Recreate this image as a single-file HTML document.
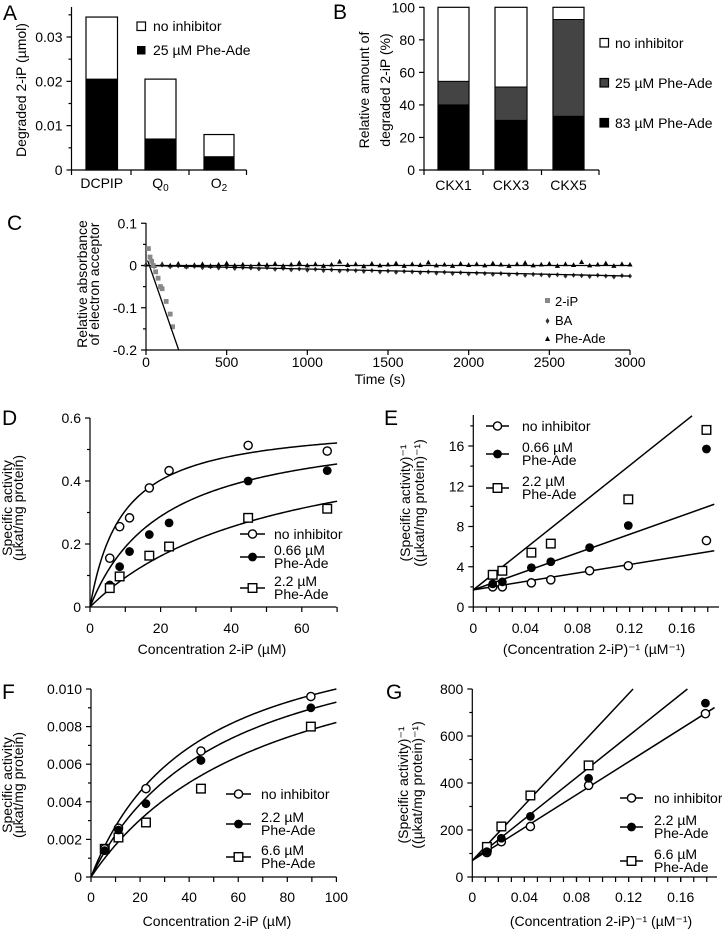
<!DOCTYPE html>
<html><head><meta charset="utf-8">
<style>
html,body{margin:0;padding:0;background:#fff;}
svg{display:block;font-family:"Liberation Sans Narrow","Liberation Sans",sans-serif;}
text{fill:#000;}
</style></head>
<body>
<svg id="fig" width="722" height="930" viewBox="0 0 722 930" xmlns="http://www.w3.org/2000/svg"></svg>
<script>
// ---------- Panel A data ----------
const aCategories = ["DCPIP", "Q", "O"];
const aSubs = ["0", "0", "2"];
const aNoInhibitor = [0.0345, 0.0205, 0.008];
const aPheAde25 = [0.0205, 0.007, 0.003];
const aTicks = [0, 0.01, 0.02, 0.03];
// ---------- Panel B data ----------
const bCategories = ["CKX1", "CKX3", "CKX5"];
const bNoInhibitor = [100, 100, 100];
const bPheAde25 = [54.5, 51, 92.5];
const bPheAde83 = [40, 30.5, 33];
const bTicks = [0, 20, 40, 60, 80, 100];
// ---------- Panel C data ----------
const cTicksX = [0, 500, 1000, 1500, 2000, 2500, 3000];
const cTicksY = [0.1, 0, -0.1, -0.2];
const c2iPTime = [15, 25, 35, 45, 60, 75, 90, 100, 125, 150, 165];
const c2iPValue = [0.04, 0.02, 0.01, 0.0, -0.015, -0.03, -0.05, -0.055, -0.085, -0.115, -0.145];
const cBA = [0,-0.002,0.001,-0.003,-0.001,-0.004,-0.002,-0.005,-0.003,-0.006,-0.004,-0.007,-0.005,-0.006,-0.008,-0.005,-0.009,-0.007,-0.010,-0.008,-0.011,-0.009,-0.012,-0.010,-0.013,-0.011,-0.012,-0.014,-0.012,-0.015,-0.013,-0.016,-0.014,-0.015,-0.017,-0.015,-0.018,-0.016,-0.019,-0.017,-0.020,-0.018,-0.019,-0.021,-0.019,-0.022,-0.020,-0.023,-0.021,-0.022,-0.024,-0.022,-0.025,-0.023,-0.024,-0.026,-0.023,-0.025,-0.027,-0.024,-0.025];
const cPheAde = [0.002,-0.001,0.003,0.000,0.004,-0.002,0.001,0.003,-0.001,0.002,0.005,0.000,0.002,-0.002,0.003,0.001,0.004,-0.001,0.002,0.006,0.000,0.003,-0.001,0.002,0.009,0.001,0.003,-0.002,0.004,0.000,0.002,0.005,-0.001,0.003,0.001,0.007,0.000,0.002,-0.001,0.004,0.001,0.003,0.000,0.005,0.002,-0.001,0.003,0.006,0.000,0.002,0.004,-0.001,0.003,0.001,0.008,0.000,0.002,0.005,-0.001,0.003,0.002];
const c2iPFit = [0.023, -0.0011];
const cBAFit = [0, -0.025];
// ---------- Panel D data ----------
const dConc = [5.6, 8.4, 11.2, 16.8, 22.4, 44.8, 67.2];
const dNoInh = [0.155, 0.255, 0.283, 0.378, 0.433, 0.513, 0.495];
const dInh066 = [0.07, 0.128, 0.176, 0.23, 0.267, 0.4, 0.433];
const dConc22 = [5.6, 8.4, 16.8, 22.4, 44.8, 67.2];
const dInh22 = [0.06, 0.097, 0.163, 0.192, 0.283, 0.312];
const dVmax = 0.59;
const dKm = [9.3, 21, 53];
const dTicksX = [0, 20, 40, 60];
const dTicksY = [0, 0.2, 0.4, 0.6];
// ---------- Panel E data ----------
const eInv = [0.0149, 0.0223, 0.0446, 0.0595, 0.0893, 0.119, 0.179];
const eNoInh = [2.0, 2.0, 2.4, 2.7, 3.6, 4.1, 6.6];
const eInh066 = [2.3, 2.5, 3.9, 4.5, 5.9, 8.1, 15.7];
const eInv22 = [0.0149, 0.0223, 0.0446, 0.0595, 0.119, 0.179];
const eInh22 = [3.2, 3.6, 5.4, 6.3, 10.7, 17.6];
const eIntercept = 1.7;
const eSlopes = [21, 46, 103];
const eTicksX = [0, 0.04, 0.08, 0.12, 0.16];
const eTicksY = [0, 4, 8, 12, 16];
// ---------- Panel F data ----------
const fConc = [5.6, 11.2, 22.4, 44.8, 89.6];
const fNoInh = [0.0015, 0.0026, 0.0047, 0.0067, 0.0096];
const fInh22 = [0.0014, 0.0025, 0.0039, 0.0062, 0.009];
const fInh66 = [0.0015, 0.0021, 0.0029, 0.0047, 0.008];
const fVmax = 0.0143;
const fKm = [43, 53.8, 74];
const fTicksX = [0, 20, 40, 60, 80, 100];
const fTicksY = [0, 0.002, 0.004, 0.006, 0.008, 0.010];
// ---------- Panel G data ----------
const gInv = [0.0112, 0.0223, 0.0446, 0.0893, 0.179];
const gNoInh = [104, 150, 215, 390, 695];
const gInh22 = [108, 165, 258, 420, 740];
const gInv66 = [0.0112, 0.0223, 0.0446, 0.0893];
const gInh66 = [128, 215, 347, 475];
const gIntercept = 70;
const gSlopes = [3500, 4420, 5915];
const gTicksX = [0, 0.04, 0.08, 0.12, 0.16];
const gTicksY = [0, 200, 400, 600, 800];

const NS = "http://www.w3.org/2000/svg";
const svg = document.getElementById("fig");
function mk(tag, attrs, name, parent) {
  const el = document.createElementNS(NS, tag);
  for (const k in attrs) el.setAttribute(k, attrs[k]);
  
  
  (parent || svg).appendChild(el);
  return el;
}
function txt(x, y, s, name, opt) {
  opt = opt || {};
  const t = mk("text", {x: x, y: y, "font-size": opt.size || 14, "text-anchor": opt.anchor || "middle"}, name, opt.parent);
  if (opt.rotate) t.setAttribute("transform", "rotate(-90 " + x + " " + y + ")");
  t.textContent = s;
  return t;
}
function line(x1, y1, x2, y2, name, w, col) {
  return mk("line", {x1: x1, y1: y1, x2: x2, y2: y2, stroke: col || "#000", "stroke-width": w || 1.2}, name);
}
function scale(d0, d1, p0, p1) { return v => p0 + (v - d0) * (p1 - p0) / (d1 - d0); }
function fmt(v, dec) { return v === 0 ? "0" : v.toFixed(dec); }
function yAxis(x, sy, top, bottom, ticks, dec, minors, name) {
  line(x, top, x, bottom, name + "-y-axis");
  ticks.forEach(t => { line(x - 5, sy(t), x, sy(t), name + "-y-tick"); txt(x - 9, sy(t) + 5, fmt(t, dec), name + "-y-tick-label", {anchor: "end"}); });
  (minors || []).forEach(t => line(x - 3, sy(t), x, sy(t), name + "-y-minor-tick"));
}
function xAxis(y, sx, left, right, ticks, dec, minors, name, labelY) {
  line(left, y, right, y, name + "-x-axis");
  ticks.forEach(t => { line(sx(t), y, sx(t), y + 5, name + "-x-tick"); txt(sx(t), labelY, fmt(t, dec), name + "-x-tick-label"); });
  (minors || []).forEach(t => line(sx(t), y, sx(t), y + 5, name + "-x-minor-tick"));
}
function marker(type, x, y, name) {
  if (type === "oc") return mk("circle", {cx: x, cy: y, r: 4.1, fill: "#fff", stroke: "#000", "stroke-width": 1.4}, name);
  if (type === "fc") return mk("circle", {cx: x, cy: y, r: 4.4, fill: "#000"}, name);
  return mk("rect", {x: x - 4.3, y: y - 4.3, width: 8.6, height: 8.6, fill: "#fff", stroke: "#000", "stroke-width": 1.4}, name);
}
function pathFrom(pts, name, w, col) {
  return mk("path", {d: "M" + pts.map(p => p[0].toFixed(2) + "," + p[1].toFixed(2)).join("L"), fill: "none", stroke: col || "#000", "stroke-width": w || 1.5}, name);
}
function range(a, b, s) { const r = []; for (let v = a; v <= b + 1e-9; v += s) r.push(+v.toFixed(6)); return r; }
function panelLabel(x, y, s) { txt(x, y, s, "panel-label-" + s.toLowerCase(), {size: 21, anchor: "start"}); }
function legendLine(x1, x2, y, type, lines, tx, name) {
  line(x1, y, x2, y, name + "-line", 1.5);
  marker(type, (x1 + x2) / 2, y, name + "-marker");
  lines.forEach((l, i) => txt(tx, lines.length === 1 ? y + 5 : y - 2 + i * 13, l, name + "-text", {anchor: "start"}));
}

// ================= Panel A =================
(function () {
  const sy = scale(0, 0.03, 170, 37);
  panelLabel(3, 20, "A");
  const slots = [[86, 117.5], [145, 176], [204, 234]];
  aCategories.forEach((c, i) => {
    const [x0, x1] = slots[i];
    mk("rect", {x: x0, y: sy(aNoInhibitor[i]), width: x1 - x0, height: 170 - sy(aNoInhibitor[i]), fill: "#fff", stroke: "#000", "stroke-width": 1.2}, "bar-no-inhibitor-" + c.toLowerCase());
    mk("rect", {x: x0, y: sy(aPheAde25[i]), width: x1 - x0, height: 170 - sy(aPheAde25[i]), fill: "#000", stroke: "#000", "stroke-width": 1}, "bar-phe-ade-25-" + c.toLowerCase());
    const t = txt((x0 + x1) / 2, 188, c, "a-x-category-label");
    if (c !== "DCPIP") { const ts = document.createElementNS(NS, "tspan"); ts.setAttribute("font-size", 10); ts.setAttribute("dy", 3); ts.textContent = aSubs[i]; t.appendChild(ts); }
  });
  yAxis(71.5, sy, 7, 170, aTicks, 2, [0.005, 0.015, 0.025, 0.035], "a");
  line(71.5, 170, 246.5, 170, "a-x-axis");
  [71.5, 131, 189, 246.5].forEach(x => line(x, 170, x, 175, "a-x-tick"));
  txt(26, 90, "Degraded 2-iP (µmol)", "a-y-axis-title", {rotate: true});
  mk("rect", {x: 137, y: 22, width: 8.5, height: 8.5, fill: "#fff", stroke: "#000", "stroke-width": 1.2}, "a-legend-swatch-no-inhibitor");
  txt(153, 31, "no inhibitor", "a-legend-no-inhibitor", {anchor: "start"});
  mk("rect", {x: 137, y: 46, width: 8.5, height: 8.5, fill: "#000"}, "a-legend-swatch-phe-ade");
  txt(153, 55, "25 µM Phe-Ade", "a-legend-phe-ade", {anchor: "start"});
})();

// ================= Panel B =================
(function () {
  const sy = scale(0, 100, 170, 7.3);
  panelLabel(333, 19, "B");
  const slots = [[438, 469], [495, 527], [553, 584]];
  bCategories.forEach((c, i) => {
    const [x0, x1] = slots[i];
    const w = x1 - x0;
    mk("rect", {x: x0, y: sy(bNoInhibitor[i]), width: w, height: 170 - sy(bNoInhibitor[i]), fill: "#fff", stroke: "#000", "stroke-width": 1.2}, "bar-no-inhibitor-" + c.toLowerCase());
    mk("rect", {x: x0, y: sy(bPheAde25[i]), width: w, height: 170 - sy(bPheAde25[i]), fill: "#444", stroke: "#000", "stroke-width": 1}, "bar-phe-ade-25-" + c.toLowerCase());
    mk("rect", {x: x0, y: sy(bPheAde83[i]), width: w, height: 170 - sy(bPheAde83[i]), fill: "#000", stroke: "#000", "stroke-width": 1}, "bar-phe-ade-83-" + c.toLowerCase());
    txt((x0 + x1) / 2, 190, c, "b-x-category-label");
  });
  yAxis(424, sy, 7, 170, bTicks, 0, [], "b");
  line(424, 170, 599, 170, "b-x-axis");
  [424, 483, 541.5, 599].forEach(x => line(x, 170, x, 175, "b-x-tick"));
  txt(369, 90, "Relative amount of", "b-y-axis-title-line1", {rotate: true});
  txt(390, 90, "degraded 2-iP (%)", "b-y-axis-title-line2", {rotate: true});
  const lg = [["#fff", "no inhibitor", 43], ["#444", "25 µM Phe-Ade", 83], ["#000", "83 µM Phe-Ade", 123]];
  lg.forEach((l, i) => {
    mk("rect", {x: 600, y: l[2] - 4.5, width: 8.5, height: 8.5, fill: l[0], stroke: "#000", "stroke-width": 1.2}, "b-legend-swatch");
    txt(615, l[2] + 5, l[1], "b-legend-entry", {anchor: "start"});
  });
})();

// ================= Panel C =================
(function () {
  const sx = scale(0, 3000, 146, 630);
  const sy = scale(0, -0.2, 265.5, 350);
  panelLabel(7, 230, "C");
  yAxis(146, sy, 223, 350, cTicksY, 1, [0.05, -0.05, -0.15], "c");
  xAxis(350, sx, 146, 630, cTicksX, 0, [], "c", 367);
  txt(380, 384, "Time (s)", "c-x-axis-title");
  txt(87, 284, "Relative absorbance", "c-y-axis-title-line1", {rotate: true});
  txt(99, 284, "of electron acceptor", "c-y-axis-title-line2", {rotate: true});
  const n = cBA.length;
  cPheAde.forEach((v, i) => {
    const x = sx(i * 3000 / (cPheAde.length - 1)), y = sy(v);
    mk("path", {d: `M${x},${y - 2.8}L${x + 2.6},${y + 1.9}L${x - 2.6},${y + 1.9}Z`, fill: "#000"}, "c-phe-ade-point");
  });
  cBA.forEach((v, i) => {
    const x = sx(i * 3000 / (n - 1)), y = sy(v);
    mk("path", {d: `M${x},${y - 2.6}L${x + 2},${y}L${x},${y + 2.6}L${x - 2},${y}Z`, fill: "#333"}, "c-ba-point");
  });
  line(sx(0), sy(0), sx(3000), sy(0), "c-phe-ade-fit", 1.3);
  line(sx(0), sy(cBAFit[0]), sx(3000), sy(cBAFit[1]), "c-ba-fit", 1.3);
  c2iPTime.forEach((t, i) => mk("rect", {x: sx(t) - 2.4, y: sy(c2iPValue[i]) - 2.4, width: 4.8, height: 4.8, fill: "#888"}, "c-2ip-point"));
  const tEnd = (-0.2 - c2iPFit[0]) / c2iPFit[1];
  line(sx(10), sy(c2iPFit[0] + c2iPFit[1] * 10), sx(tEnd), sy(-0.2), "c-2ip-fit", 1.3);
  mk("rect", {x: 545, y: 298, width: 5, height: 5, fill: "#888"}, "c-legend-2ip-marker");
  txt(555, 306, "2-iP", "c-legend-2ip", {anchor: "start", size: 13});
  mk("path", {d: "M547.5,318L549.5,321L547.5,324L545.5,321Z", fill: "#333"}, "c-legend-ba-marker");
  txt(555, 325, "BA", "c-legend-ba", {anchor: "start", size: 13});
  mk("path", {d: "M547.5,336L550,341L545,341Z", fill: "#000"}, "c-legend-phe-ade-marker");
  txt(555, 343, "Phe-Ade", "c-legend-phe-ade", {anchor: "start", size: 13});
})();

// ================= Panel D =================
(function () {
  const sx = scale(0, 60, 90, 301.8);
  const sy = scale(0, 0.6, 607, 418);
  panelLabel(2, 425, "D");
  yAxis(90, sy, 418, 607, dTicksY, 1, [0.1, 0.3, 0.5], "d");
  xAxis(607, sx, 90, 336.5, dTicksX, 0, [10, 30, 50, 70], "d", 633);
  txt(212, 654, "Concentration 2-iP (µM)", "d-x-axis-title");
  txt(12, 508, "Specific activity", "d-y-axis-title-line1", {rotate: true});
  txt(23, 508, "(µkat/mg protein)", "d-y-axis-title-line2", {rotate: true});
  dKm.forEach((km, k) => {
    const pts = range(0, 70, 0.5).map(s => [sx(s), sy(dVmax * s / (km + s))]);
    pathFrom(pts, "d-fit-curve-" + k);
  });
  dConc.forEach((s, i) => marker("oc", sx(s), sy(dNoInh[i]), "d-point-no-inhibitor"));
  dConc.forEach((s, i) => marker("fc", sx(s), sy(dInh066[i]), "d-point-0.66-phe-ade"));
  dConc22.forEach((s, i) => marker("sq", sx(s), sy(dInh22[i]), "d-point-2.2-phe-ade"));
  legendLine(240, 265, 534, "oc", ["no inhibitor"], 274, "d-legend-no-inhibitor");
  legendLine(240, 265, 557, "fc", ["0.66 µM", "Phe-Ade"], 274, "d-legend-0.66");
  legendLine(240, 265, 588, "sq", ["2.2 µM", "Phe-Ade"], 274, "d-legend-2.2");
})();

// ================= Panel E =================
(function () {
  const sx = scale(0, 0.16, 473.3, 681.7);
  const sy = scale(0, 16, 607, 446);
  panelLabel(384, 425, "E");
  yAxis(473.3, sy, 415, 607, eTicksY, 0, [2, 6, 10, 14, 18], "e");
  xAxis(607, sx, 473.3, 719, eTicksX, 2, range(0.01, 0.18, 0.01), "e", 633);
  txt(594, 654, "(Concentration 2-iP)\u207B\u00B9 (µM\u207B\u00B9)", "e-x-axis-title");
  txt(410, 503, "(Specific activity)\u207B\u00B9", "e-y-axis-title-line1", {rotate: true});
  txt(424, 503, "((µkat/mg protein)\u207B\u00B9)", "e-y-axis-title-line2", {rotate: true});
  eSlopes.forEach((m, k) => {
    let xe = 0.185;
    if (eIntercept + m * xe > 19) xe = (19 - eIntercept) / m;
    line(sx(0), sy(eIntercept), sx(xe), sy(eIntercept + m * xe), "e-fit-line-" + k, 1.5);
  });
  eInv.forEach((v, i) => marker("oc", sx(v), sy(eNoInh[i]), "e-point-no-inhibitor"));
  eInv.forEach((v, i) => marker("fc", sx(v), sy(eInh066[i]), "e-point-0.66-phe-ade"));
  eInv22.forEach((v, i) => marker("sq", sx(v), sy(eInh22[i]), "e-point-2.2-phe-ade"));
  legendLine(486, 509, 426, "oc", ["no inhibitor"], 522, "e-legend-no-inhibitor");
  legendLine(486, 509, 454, "fc", ["0.66 µM", "Phe-Ade"], 522, "e-legend-0.66");
  legendLine(486, 509, 488, "sq", ["2.2 µM", "Phe-Ade"], 522, "e-legend-2.2");
})();

// ================= Panel F =================
(function () {
  const sx = scale(0, 100, 91, 336.4);
  const sy = scale(0, 0.01, 877, 689);
  panelLabel(2, 699, "F");
  yAxis(91, sy, 689, 877, fTicksY, 3, [0.001, 0.003, 0.005, 0.007, 0.009], "f");
  xAxis(877, sx, 91, 336.4, fTicksX, 0, [10, 30, 50, 70, 90], "f", 902);
  txt(217, 926, "Concentration 2-iP (µM)", "f-x-axis-title");
  txt(12, 785, "Specific activity", "f-y-axis-title-line1", {rotate: true});
  txt(23, 785, "(µkat/mg protein)", "f-y-axis-title-line2", {rotate: true});
  fKm.forEach((km, k) => {
    const pts = range(0, 100, 0.5).map(s => [sx(s), sy(fVmax * s / (km + s))]);
    pathFrom(pts, "f-fit-curve-" + k);
  });
  fConc.forEach((s, i) => marker("sq", sx(s), sy(fInh66[i]), "f-point-6.6-phe-ade"));
  fConc.forEach((s, i) => marker("oc", sx(s), sy(fNoInh[i]), "f-point-no-inhibitor"));
  fConc.forEach((s, i) => marker("fc", sx(s), sy(fInh22[i]), "f-point-2.2-phe-ade"));
  legendLine(226, 251, 794, "oc", ["no inhibitor"], 261, "f-legend-no-inhibitor");
  legendLine(226, 251, 824, "fc", ["2.2 µM", "Phe-Ade"], 261, "f-legend-2.2");
  legendLine(226, 251, 857, "sq", ["6.6 µM", "Phe-Ade"], 261, "f-legend-6.6");
})();

// ================= Panel G =================
(function () {
  const sx = scale(0, 0.16, 472.3, 680.7);
  const sy = scale(0, 800, 877, 689);
  panelLabel(386, 699, "G");
  yAxis(472.3, sy, 689, 877, gTicksY, 0, [100, 300, 500, 700], "g");
  xAxis(877, sx, 472.3, 717, gTicksX, 2, range(0.01, 0.18, 0.01), "g", 902);
  txt(601, 926, "(Concentration 2-iP)\u207B\u00B9 (µM\u207B\u00B9)", "g-x-axis-title");
  txt(408, 785, "(Specific activity)\u207B\u00B9", "g-y-axis-title-line1", {rotate: true});
  txt(422, 785, "((µkat/mg protein)\u207B\u00B9)", "g-y-axis-title-line2", {rotate: true});
  gSlopes.forEach((m, k) => {
    let xe = 0.186;
    if (gIntercept + m * xe > 800) xe = (800 - gIntercept) / m;
    line(sx(0), sy(gIntercept), sx(xe), sy(gIntercept + m * xe), "g-fit-line-" + k, 1.5);
  });
  gInv66.forEach((v, i) => marker("sq", sx(v), sy(gInh66[i]), "g-point-6.6-phe-ade"));
  gInv.forEach((v, i) => marker("oc", sx(v), sy(gNoInh[i]), "g-point-no-inhibitor"));
  gInv.forEach((v, i) => marker("fc", sx(v), sy(gInh22[i]), "g-point-2.2-phe-ade"));
  legendLine(620, 643, 798, "oc", ["no inhibitor"], 654, "g-legend-no-inhibitor");
  legendLine(620, 643, 827, "fc", ["2.2 µM", "Phe-Ade"], 654, "g-legend-2.2");
  legendLine(620, 643, 861, "sq", ["6.6 µM", "Phe-Ade"], 654, "g-legend-6.6");
})();
</script>
</body></html>
